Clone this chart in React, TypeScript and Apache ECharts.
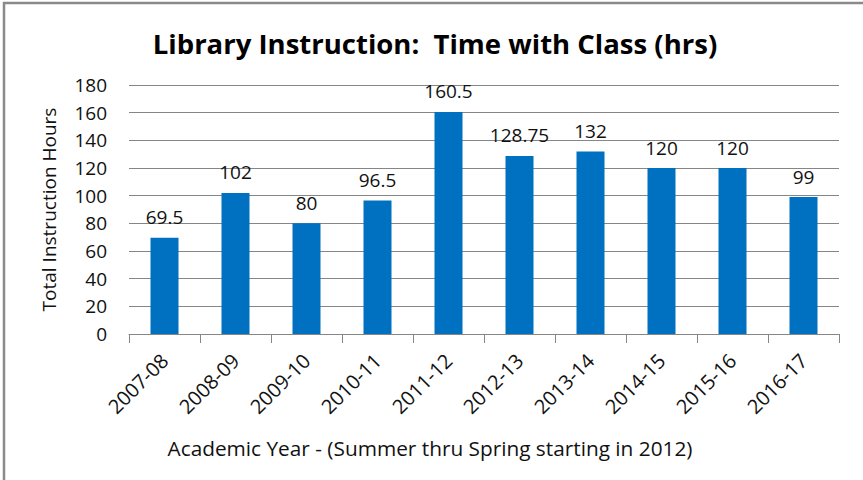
import React, { useEffect, useRef } from "react";
import * as echarts from "echarts";

const categories = ["2007-08", "2008-09", "2009-10", "2010-11", "2011-12", "2012-13", "2013-14", "2014-15", "2015-16", "2016-17"];
const hours = [69.5, 102, 80, 96.5, 160.5, 128.75, 132, 120, 120, 99];
const titleText = "Library Instruction:  Time with Class (hrs)";
const yName = "Total Instruction Hours";
const xName = "Academic Year - (Summer thru Spring starting in 2012)";

const FONT = "'Open Sans', Lato, sans-serif";

export default function App() {
  const ref = useRef<HTMLDivElement>(null);
  useEffect(() => {
    if (!ref.current) return;
    const chart = echarts.init(ref.current, null, { renderer: "svg" });
    chart.setOption({
      animation: false,
      backgroundColor: "#ffffff",
      textStyle: { fontFamily: FONT },
      title: {
        text: titleText,
        left: 430,
        top: 24,
        textAlign: "center",
        textStyle: { fontFamily: FONT, fontSize: 27.5, fontWeight: "bold", color: "#000" },
      },
      grid: { left: 129, right: 24, top: 85, bottom: 146 },
      xAxis: {
        type: "category",
        data: categories,
        axisLine: { lineStyle: { color: "#868686", width: 1 } },
        axisTick: { show: true, alignWithLabel: false, length: 9, lineStyle: { color: "#868686" } },
        axisLabel: { rotate: 45, fontSize: 20, color: "#111", margin: 23, fontFamily: FONT },
      },
      yAxis: {
        type: "value",
        min: 0,
        max: 180,
        interval: 20,
        name: yName,
        nameLocation: "middle",
        nameGap: 71,
        nameTextStyle: { fontSize: 19, color: "#111", fontFamily: FONT },
        axisLine: { show: false },
        axisTick: { show: false },
        axisLabel: { fontSize: 19, color: "#111", margin: 22, fontFamily: FONT },
        splitLine: { lineStyle: { color: "#868686", width: 1 } },
      },
      series: [
        {
          type: "bar",
          data: hours,
          barWidth: 28,
          itemStyle: { color: "#0070C0" },
          label: {
            show: true,
            position: "top",
            distance: 11,
            fontSize: 19,
            color: "#111",
            fontFamily: FONT,
          },
        },
      ],
      graphic: [
        {
          type: "text",
          x: 430,
          y: 448,
          style: {
            text: xName,
            fontSize: 20.8,
            fill: "#111",
            fontFamily: FONT,
            textAlign: "center",
            textVerticalAlign: "middle",
          },
        },
        {
          type: "rect",
          shape: { x: 4, y: 3, width: 1000, height: 1000 },
          style: { fill: "none", stroke: "#8a8a8a", lineWidth: 2.5 },
          silent: true,
        },
      ],
    });
    return () => chart.dispose();
  }, []);
  return (
    <div
      ref={ref}
      style={{ position: "fixed", left: 0, top: 0, width: 863, height: 480 }}
    />
  );
}
